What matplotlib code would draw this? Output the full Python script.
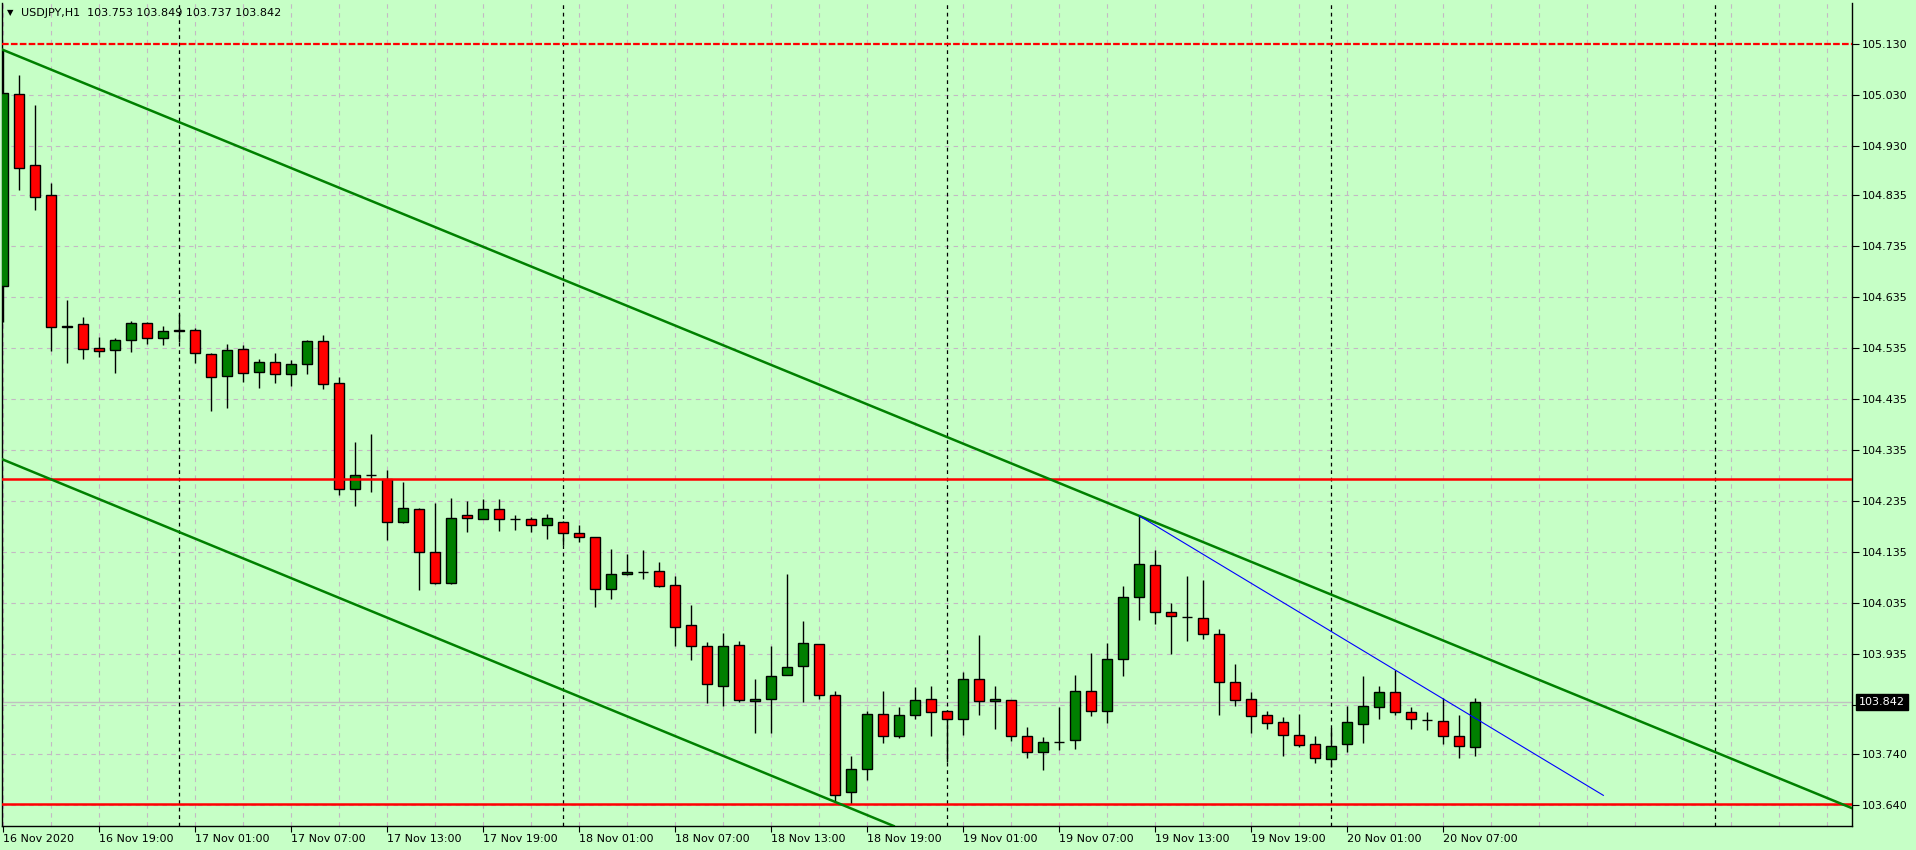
from matplotlib import pyplot as plt
from matplotlib.transforms import blended_transform_factory
import numpy as np

# USDJPY H1, first bar 16 Nov 2020 13:00, last bar 20 Nov 2020 09:00
opens = [104.657, 105.032, 104.892, 104.834, 104.577, 104.581, 104.534, 104.530, 104.550, 104.583,
         104.555, 104.569, 104.569, 104.522, 104.479, 104.532, 104.487, 104.507, 104.483, 104.503,
         104.548, 104.466, 104.258, 104.286, 104.278, 104.195, 104.219, 104.135, 104.074, 104.207,
         104.199, 104.219, 104.199, 104.199, 104.188, 104.195, 104.172, 104.164, 104.062, 104.092,
         104.096, 104.098, 104.070, 103.992, 103.951, 103.874, 103.953, 103.843, 103.847, 103.895,
         103.912, 103.955, 103.855, 103.665, 103.710, 103.818, 103.776, 103.816, 103.847, 103.825,
         103.808, 103.886, 103.843, 103.845, 103.775, 103.743, 103.764, 103.767, 103.863, 103.825,
         103.926, 104.047, 104.109, 104.017, 104.008, 104.006, 103.974, 103.881, 103.847, 103.816,
         103.802, 103.778, 103.759, 103.731, 103.759, 103.798, 103.831, 103.861, 103.822, 103.806,
         103.804, 103.775, 103.753]
highs = [105.118, 105.069, 105.011, 104.857, 104.629, 104.596, 104.557, 104.554, 104.588, 104.585,
         104.578, 104.601, 104.573, 104.524, 104.543, 104.541, 104.513, 104.525, 104.511, 104.550,
         104.560, 104.478, 104.350, 104.366, 104.295, 104.272, 104.221, 104.232, 104.241, 104.235,
         104.239, 104.239, 104.208, 104.203, 104.210, 104.197, 104.188, 104.165, 104.141, 104.131,
         104.139, 104.116, 104.088, 104.032, 103.959, 103.976, 103.962, 103.886, 103.952, 104.092,
         104.000, 103.956, 103.863, 103.736, 103.824, 103.863, 103.832, 103.871, 103.873, 103.826,
         103.900, 103.973, 103.873, 103.846, 103.792, 103.773, 103.832, 103.894, 103.938, 103.957,
         104.069, 104.206, 104.139, 104.035, 104.088, 104.081, 103.984, 103.917, 103.861, 103.825,
         103.812, 103.818, 103.775, 103.790, 103.833, 103.892, 103.874, 103.904, 103.831, 103.822,
         103.849, 103.816, 103.849]
lows = [104.586, 104.843, 104.804, 104.528, 104.506, 104.513, 104.518, 104.486, 104.526, 104.543,
        104.541, 104.547, 104.506, 104.412, 104.418, 104.468, 104.457, 104.467, 104.461, 104.483,
        104.455, 104.246, 104.226, 104.252, 104.158, 104.193, 104.060, 104.072, 104.072, 104.175,
        104.199, 104.177, 104.178, 104.175, 104.161, 104.150, 104.154, 104.028, 104.044, 104.091,
        104.083, 104.067, 103.951, 103.924, 103.840, 103.834, 103.842, 103.782, 103.782, 103.894,
        103.842, 103.848, 103.648, 103.643, 103.690, 103.761, 103.772, 103.809, 103.776, 103.725,
        103.777, 103.817, 103.789, 103.766, 103.733, 103.709, 103.748, 103.750, 103.815, 103.801,
        103.893, 104.002, 103.995, 103.936, 103.961, 103.965, 103.817, 103.834, 103.782, 103.789,
        103.737, 103.753, 103.723, 103.715, 103.744, 103.761, 103.809, 103.817, 103.789, 103.787,
        103.760, 103.733, 103.737]
closes = [105.033, 104.888, 104.831, 104.575, 104.576, 104.533, 104.528, 104.550, 104.583, 104.555,
          104.568, 104.568, 104.524, 104.477, 104.530, 104.485, 104.507, 104.483, 104.503, 104.548,
          104.464, 104.258, 104.286, 104.286, 104.194, 104.221, 104.135, 104.074, 104.201, 104.201,
          104.219, 104.199, 104.199, 104.188, 104.201, 104.172, 104.164, 104.062, 104.092, 104.096,
          104.096, 104.069, 103.988, 103.951, 103.876, 103.951, 103.845, 103.847, 103.892, 103.910,
          103.957, 103.855, 103.659, 103.710, 103.818, 103.776, 103.816, 103.845, 103.823, 103.808,
          103.886, 103.843, 103.847, 103.775, 103.743, 103.763, 103.763, 103.863, 103.825, 103.925,
          104.047, 104.111, 104.017, 104.011, 104.008, 103.974, 103.881, 103.845, 103.814, 103.800,
          103.778, 103.757, 103.733, 103.755, 103.802, 103.833, 103.861, 103.823, 103.808, 103.806,
          103.776, 103.755, 103.842]

time_labels = ['16 Nov 2020', '16 Nov 19:00', '17 Nov 01:00', '17 Nov 07:00', '17 Nov 13:00',
               '17 Nov 19:00', '18 Nov 01:00', '18 Nov 07:00', '18 Nov 13:00', '18 Nov 19:00',
               '19 Nov 01:00', '19 Nov 07:00', '19 Nov 13:00', '19 Nov 19:00', '20 Nov 01:00',
               '20 Nov 07:00']
price_labels = ['105.130', '105.030', '104.930', '104.835', '104.735', '104.635', '104.535',
                '104.435', '104.335', '104.235', '104.135', '104.035', '103.935', '103.835',
                '103.740', '103.640']
day_starts = [11, 35, 59, 83, 107]   # bars at 00:00

# objetos dibujados sobre el grafico
upper_trend = [(0, 105.118), (71, 104.206)]
lower_trend = [(0, 104.316), (52, 103.646)]
blue_trend = [(71, 104.206), (100, 103.659)]
dash_level = 105.130
red_levels = [104.278, 103.642]

bg = '#c6ffc6'
gridc = '#c4b8c4'
bull = '#007f00'
bear = '#ff0000'

fig = plt.figure(figsize=(19.16, 8.5), dpi=100, facecolor=bg)
ax = fig.add_axes([2 / 1916, 24 / 850, 1850 / 1916, 823.5 / 850], facecolor=bg)

x = np.arange(len(opens))
o = np.array(opens)
c = np.array(closes)
colors = [bull if cc >= oo else bear for oo, cc in zip(o, c)]

ax.vlines(x, lows, highs, color='black', lw=1.0, zorder=3)
ax.bar(x, np.abs(c - o), bottom=np.minimum(o, c), width=0.62, color=colors,
       edgecolor='black', linewidth=1.0, zorder=4)

# lineas
ax.axhline(dash_level, color='red', lw=1.6, linestyle=(0, (3, 1)), zorder=5)
for lv in red_levels:
    ax.axhline(lv, color='red', lw=1.8, zorder=5)
ax.axline(upper_trend[0], upper_trend[1], color='#008000', lw=1.8, zorder=5)
ax.axline(lower_trend[0], lower_trend[1], color='#008000', lw=1.8, zorder=5)
ax.plot([p[0] for p in blue_trend], [p[1] for p in blue_trend], color='#0000ff', lw=0.8, zorder=5)
for d in day_starts:
    ax.axvline(d, color='black', lw=0.9, linestyle=(0, (3, 3)), zorder=2)
ax.axhline(closes[-1], color='#c0c0c0', lw=1.0, zorder=1.5)

ax.set_xlim(-0.08, 115.54)
ax.set_ylim(103.599, 105.211)

# ejes
label_bars = np.arange(0, len(time_labels) * 6, 6)
ax.set_xticks(label_bars, time_labels, ha='left')
ax.set_xticks(np.arange(0, 116, 3), minor=True)
ax.tick_params(axis='x', which='minor', length=0)
ax.tick_params(axis='x', which='major', length=4, width=0.8, pad=2, labelsize=8, colors='black')

ax.yaxis.tick_right()
ax.set_yticks([float(s) for s in price_labels], [s if s != '103.835' else '' for s in price_labels])
ax.tick_params(axis='y', length=5, width=0.8, pad=2, labelsize=8, colors='black')

ax.grid(True, which='both', axis='x', color=gridc, lw=0.8, linestyle=(0, (4, 4)), zorder=0)
ax.grid(True, which='major', axis='y', color=gridc, lw=0.8, linestyle=(0, (4, 4)), zorder=0)
ax.set_axisbelow(True)

for s in ['left', 'right', 'bottom']:
    ax.spines[s].set_color('black')
    ax.spines[s].set_linewidth(1.0)
ax.spines['top'].set_visible(False)

# precio actual
tr = blended_transform_factory(ax.transAxes, ax.transData)
ax.text(1 + 7 / 1850, closes[-1], f'{closes[-1]:.3f}', transform=tr, ha='left', va='center',
        color='white', fontsize=8, zorder=10, clip_on=False,
        bbox=dict(boxstyle='square,pad=0.25', facecolor='black', edgecolor='black'))

# cabecera
fig.text(7 / 1916, 1 - 13 / 850, '\u25bc', fontsize=6, va='center', ha='left', color='black')
fig.text(21 / 1916, 1 - 13 / 850,
         f'USDJPY,H1  {opens[-1]:.3f} {highs[-1]:.3f} {lows[-1]:.3f} {closes[-1]:.3f}',
         fontsize=8, va='center', ha='left', color='black')

fig.savefig('out.png', dpi=100, facecolor=bg)
